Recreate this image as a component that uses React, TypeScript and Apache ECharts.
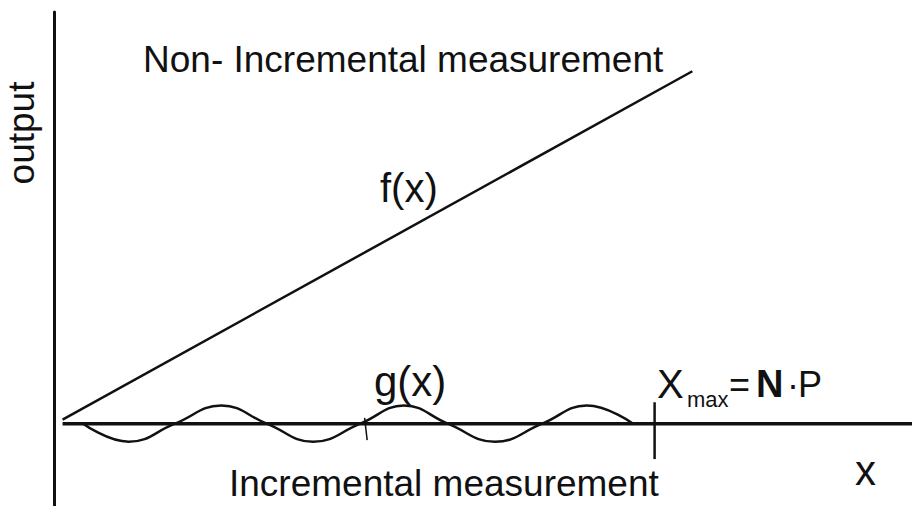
import React, { useEffect, useRef } from "react";
import * as echarts from "echarts";

// Non-incremental measurement f(x): straight line
const fX = [0.1, 7.44];
const fY = [0.05, 4.28];
const gX = [0.34, 0.87, 1.41, 1.95, 2.48, 3.02, 3.57, 4.08, 4.59, 5.14, 5.69, 6.21, 6.75];
const gY = [0, -0.22, 0, 0.22, 0, -0.22, 0, 0.22, 0, -0.22, 0, 0.22, 0];
// horizontal axis line
const axisX = [0.1, 10];
const axisY = [0, 0];
// X_max tick
const xmaxX = [7.0, 7.0];
const xmaxY = [0.26, -0.43];
// small pointer tick of g(x)
const pointerX = [3.62, 3.65];
const pointerY = [0.07, -0.2];

const zip = (xs: number[], ys: number[]) => xs.map((x, i) => [x, ys[i]]);

const FONT = '"Liberation Sans", Arial, sans-serif';
const INK = "#111111";

function txt(text: string, x: number, y: number, fontSize: number, extra: any = {}) {
  return {
    type: "text",
    x,
    y,
    rotation: extra.rotation || 0,
    scaleX: extra.scaleX || 1,
    style: {
      text,
      fill: INK,
      fontSize,
      lineHeight: extra.lineHeight || Math.round(fontSize * 1.1),
      fontFamily: FONT,
      fontWeight: extra.fontWeight || "normal",
      textAlign: extra.align || "left",
      align: extra.align || "left",
      textVerticalAlign: "middle",
      verticalAlign: "middle",
    },
  };
}

export default function App() {
  const ref = useRef<HTMLDivElement>(null);
  useEffect(() => {
    if (!ref.current) return;
    const chart = echarts.init(ref.current, null, { renderer: "svg" });
    const lineSeries = (data: number[][], width: number, smooth: boolean | number = false) => ({
      type: "line",
      data,
      smooth,
      showSymbol: false,
      symbol: "none",
      lineStyle: { color: INK, width },
      silent: true,
    });
    chart.setOption({
      animation: false,
      backgroundColor: "#ffffff",
      grid: { left: 54, right: 0, top: 12, bottom: 0, containLabel: false },
      xAxis: {
        type: "value",
        min: 0,
        max: 10,
        axisLine: { show: false },
        axisTick: { show: false },
        axisLabel: { show: false },
        splitLine: { show: false },
      },
      yAxis: {
        type: "value",
        min: -1,
        max: 5,
        axisLine: { show: true, onZero: false, lineStyle: { color: INK, width: 3 } },
        axisTick: { show: false },
        axisLabel: { show: false },
        splitLine: { show: false },
      },
      series: [
        lineSeries(zip(axisX, axisY), 3.5),
        lineSeries(zip(fX, fY), 2.5),
        lineSeries(zip(gX, gY), 2.5, 0.45),
        lineSeries(zip(xmaxX, xmaxY), 2.5),
        lineSeries(zip(pointerX, pointerY), 1.5),
      ],
      graphic: [
        txt("output", 21, 133, 37, { rotation: Math.PI / 2, align: "center" }),
        txt("Non- Incremental measurement", 143, 59, 37),
        txt("Incremental measurement", 229, 483, 37, { lineHeight: 28 }),
        txt("f(x)", 380, 188, 40),
        txt("g(x)", 374, 381, 42),
        txt("X", 657, 384, 40),
        txt("max", 687, 399, 22),
        txt("=", 729, 384, 36),
        txt("N", 756, 384, 38, { fontWeight: "bold" }),
        txt("·", 787, 384, 36),
        txt("P", 798, 384, 36),
        txt("x", 855, 470, 42),
      ],
    });
    return () => chart.dispose();
  }, []);
  return (
    <div
      ref={ref}
      style={{ position: "fixed", left: 0, top: 0, width: 912, height: 506 }}
    />
  );
}
